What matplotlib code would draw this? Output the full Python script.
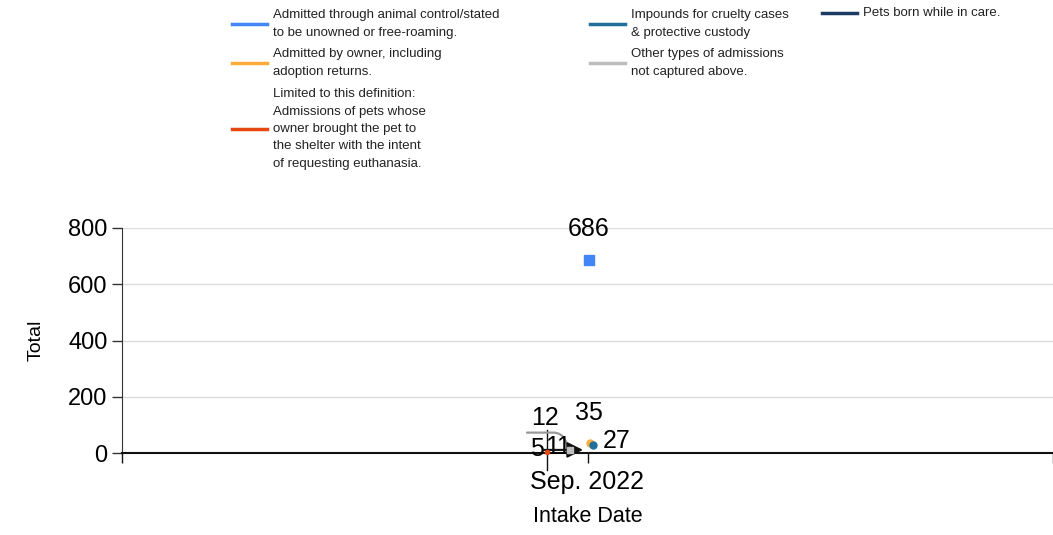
import matplotlib
import matplotlib.pyplot as plt
from matplotlib.lines import Line2D

matplotlib.use("Agg")
plt.rcParams["font.family"] = ["Liberation Sans", "DejaVu Sans"]

# data
categories = ["Sep. 2022"]
series_names = [
    "Admitted through animal control/stated\nto be unowned or free-roaming.",
    "Admitted by owner, including\nadoption returns.",
    "Limited to this definition:\nAdmissions of pets whose\nowner brought the pet to\nthe shelter with the intent\nof requesting euthanasia.",
    "Impounds for cruelty cases\n& protective custody",
    "Other types of admissions\nnot captured above.",
    "Pets born while in care.",
]
series_values = [686, 35, 5, 27, 12, 11]
series_colors = ["#4285f4", "#fbac3a", "#e8470f", "#1f6f9a", "#bdbdbd", "#1b3a63"]

W, H = 1053, 535
AX_L, AX_R, AX_T, AX_B = 122, 1053, 228, 453

fig = plt.figure(figsize=(W / 100, H / 100), dpi=100)
ax = fig.add_axes([AX_L / W, 1 - AX_B / H, (AX_R - AX_L) / W, (AX_B - AX_T) / H])

ax.set_xlim(-1, 1)
ax.set_ylim(0, 800)
ax.set_yticks([0, 200, 400, 600, 800])
ax.set_xticks([-1, 0, 1])
ax.set_xticklabels(["", categories[0], ""], fontsize=18)
ax.tick_params(axis="y", labelsize=17, length=7, width=1, direction="out",
               pad=3.5, color="#333333")
ax.tick_params(axis="x", length=7, width=1, pad=5, color="#111111")
ax.grid(axis="y", color="#dcdcdc", linewidth=1)
ax.set_axisbelow(True)
for s in ["top", "right"]:
    ax.spines[s].set_visible(False)
ax.spines["left"].set_color("#333333")
ax.spines["bottom"].set_color("#111111")
ax.spines["bottom"].set_linewidth(1.5)

ax.set_ylabel("Total", fontsize=14, labelpad=17)
ax.set_xlabel("Intake Date", fontsize=15.5, labelpad=9)


def px2x(px):
    # pixel column -> data x
    mid = (AX_L + AX_R) / 2
    return (px - mid) / ((AX_R - AX_L) / 2)


def py2y(py):
    return (AX_B - py) * 800 / (AX_B - AX_T)


# point columns (pixels) for each series around the category
cols_px = [589, 590, 547, 593, 570, 583]
markers = ["s", "o", "o", "o", "s", "^"]
sizes = [7, 5, 3, 5, 4, 0]
xs = [px2x(p) for p in cols_px]
for v, c, x, m, ms in zip(series_values, series_colors, xs, markers, sizes):
    ax.plot([x], [v], marker=m, color=c, markersize=ms, linestyle="none",
            clip_on=False, zorder=4)

# data labels
ax.annotate(str(series_values[0]), (xs[0], series_values[0]),
            xytext=(0, 31), textcoords="offset pixels", ha="center",
            va="center", fontsize=18)
ax.annotate(str(series_values[1]), (xs[1], series_values[1]),
            xytext=(-1, 30), textcoords="offset pixels", ha="center",
            va="center", fontsize=18)
ax.annotate(str(series_values[3]), (xs[3], series_values[3]),
            xytext=(10, 4), textcoords="offset pixels", ha="left",
            va="center", fontsize=18)
ax.annotate(str(series_values[4]), (xs[4], series_values[4]),
            xytext=(-25, 32), textcoords="offset pixels", ha="center",
            va="center", fontsize=18)
ax.annotate("", (xs[4], series_values[4]),
            xytext=(-43, 17), textcoords="offset pixels",
            arrowprops=dict(arrowstyle="-", color="#999999", lw=1.6,
                            connectionstyle="angle,angleA=0,angleB=117,rad=8",
                            shrinkA=0, shrinkB=0))
ax.annotate(str(series_values[2]), (xs[2], series_values[2]),
            xytext=(-10, 3), textcoords="offset pixels", ha="center",
            va="center", fontsize=18)
ax.annotate(str(series_values[5]), (xs[5], series_values[5]),
            xytext=(-25, 3), textcoords="offset pixels", ha="center",
            va="center", fontsize=18)
ax.annotate("", (xs[5], series_values[5]),
            xytext=(-40, 0), textcoords="offset pixels",
            arrowprops=dict(arrowstyle="-|>", color="#111111", lw=1.5,
                            mutation_scale=24, shrinkA=0, shrinkB=0))
ax.plot([px2x(547)] * 2, [py2y(430), py2y(470)], color="#111111", lw=1,
        clip_on=False)

# legend (three columns across the top)
entries = [(0, 232, 24), (1, 232, 63), (2, 232, 129),
           (3, 590, 24), (4, 590, 63), (5, 822, 13)]
for i, x, y in entries:
    yy = 1 - y / H
    fig.add_artist(Line2D([x / W, (x + 35) / W], [yy, yy],
                          color=series_colors[i], lw=2.5,
                          transform=fig.transFigure))
    fig.text((x + 41) / W, yy, series_names[i], fontsize=9.5,
             va="center", ha="left", linespacing=1.6, color="#222222")

fig.savefig("out.png", dpi=100)
